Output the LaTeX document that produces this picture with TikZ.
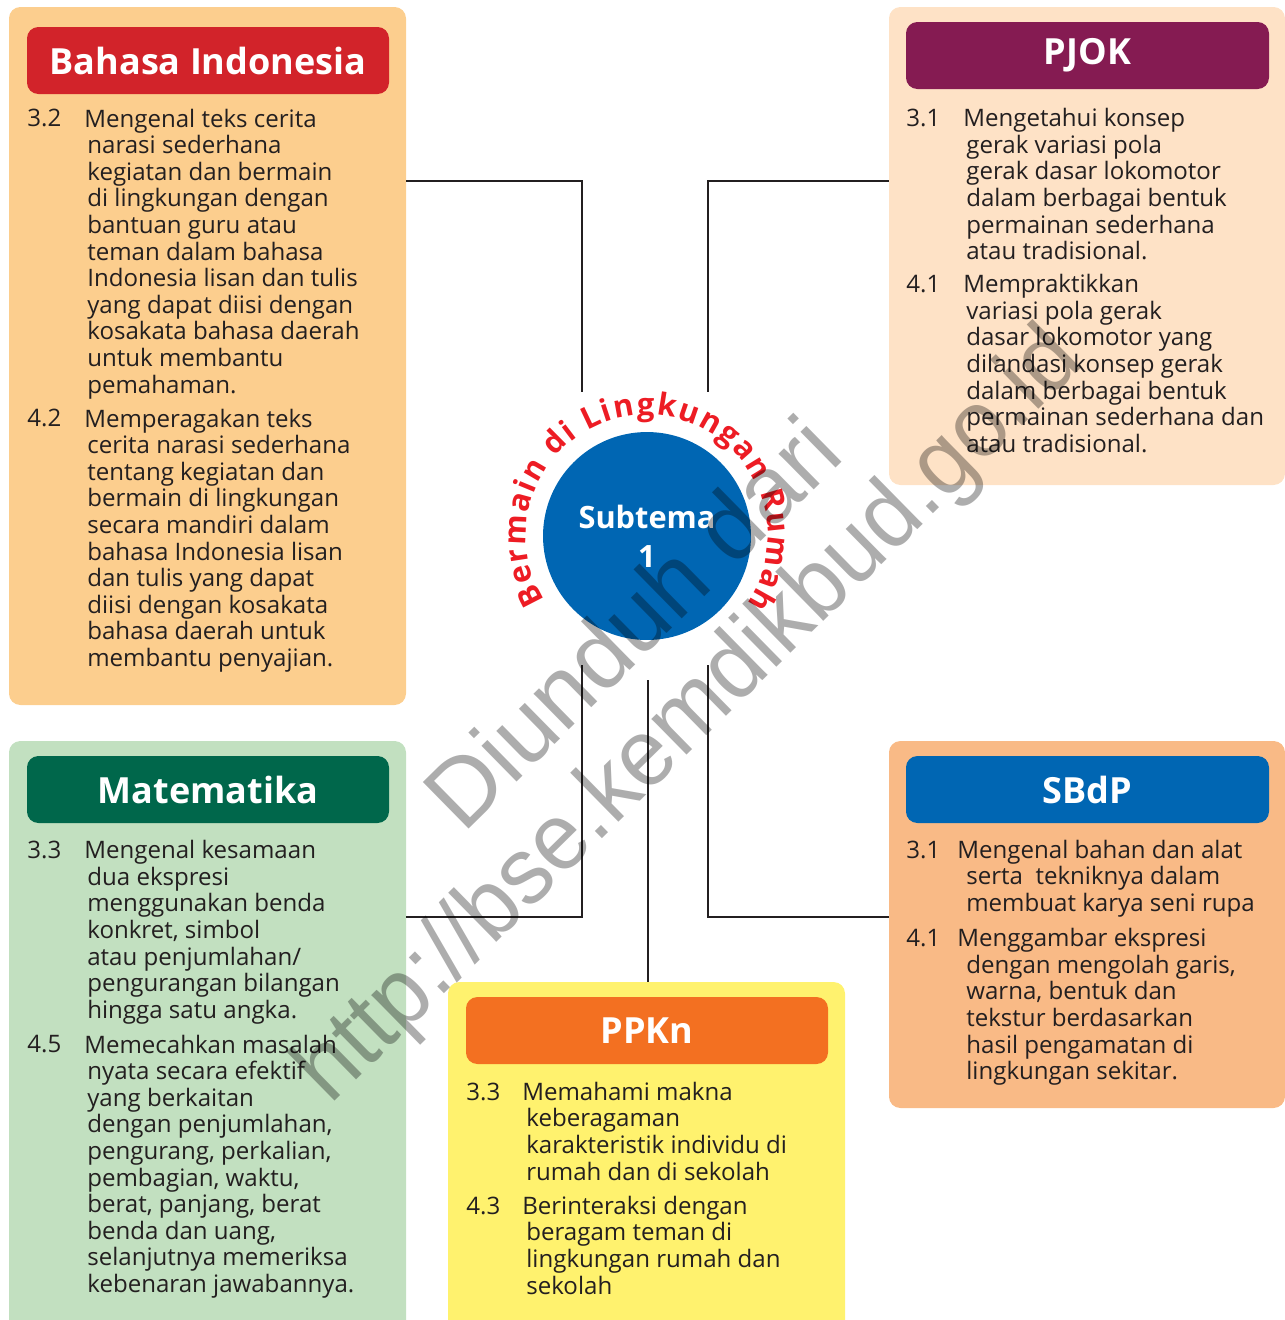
\documentclass[tikz,border=0pt]{standalone}
\usepackage{fontspec}
\setmainfont{Open Sans}
\newfontfamily\wmfont{Liberation Sans}
\usetikzlibrary{fit,decorations.text}

\definecolor{ink}{HTML}{231F20}
\definecolor{bibg}{HTML}{FCCE8E}
\definecolor{bitop}{HTML}{D2232A}
\definecolor{pjbg}{HTML}{FEE2C6}
\definecolor{pjtop}{HTML}{851B52}
\definecolor{mtbg}{HTML}{C2E0C0}
\definecolor{mttop}{HTML}{00674B}
\definecolor{sbbg}{HTML}{F9BA86}
\definecolor{sbtop}{HTML}{0066B3}
\definecolor{ppbg}{HTML}{FFF26E}
\definecolor{pptop}{HTML}{F37021}
\definecolor{subblue}{HTML}{0066B3}
\definecolor{ringred}{HTML}{ED1C24}

\newcommand{\bodyfont}{\fontsize{13.7}{15.14}\selectfont}
\newcommand{\headfont}{\bfseries\fontsize{20.5}{20.5}\selectfont}
\newcommand{\subfont}{\bfseries\fontsize{17.5}{22}\selectfont}
\newcommand{\ringfont}{\bfseries\fontsize{17.5}{17.5}\selectfont}

\tikzset{
  panel/.style={inner sep=0pt, rounded corners=6.5pt},
  title/.style={text=white, font=\headfont, inner sep=0pt},
  num/.style={anchor=base west, inner sep=0pt, text=ink, font=\bodyfont},
  body/.style={num, align=left},  % placed at the baseline of its last line
  link/.style={draw=ink, line width=1.1pt},
  wmark/.style={rotate=44.5, anchor=base, inner sep=0pt, text=black, text opacity=0.32,
    font=\wmfont\fontsize{54}{54}\selectfont},
}

\begin{document}
\begin{tikzpicture}[x=0.02cm, y=-0.02cm]
    \useasboundingbox (0,0) rectangle (1285,1320);
    %Panels
    \node[panel, fill=bibg, fit={(9,7) (406,705)}]      (bibox) {};
    \node[panel, fill=pjbg, fit={(889,7) (1285,485)}]   (pjbox) {};
    \node[panel, fill=mtbg, fit={(9,741) (406,1335)}]   (mtbox) {};
    \node[panel, fill=sbbg, fit={(889,741) (1285,1108)}] (sbbox) {};
    \node[panel, fill=ppbg, fit={(448,982) (845,1335)}] (ppbox) {};
    %Headers
    \node[panel, fill=bitop, fit={(27,27) (389,94)}]    (bihead) {};
    \node[panel, fill=pjtop, fit={(906,22) (1269,89)}]  (pjhead) {};
    \node[panel, fill=mttop, fit={(27,756) (389,823)}]  (mthead) {};
    \node[panel, fill=sbtop, fit={(906,756) (1269,823)}] (sbhead) {};
    \node[panel, fill=pptop, fit={(466,997) (828,1064)}] (pphead) {};
    \node[title] (bititle) at (bihead) {Bahasa Indonesia};
    \node[title] (pjtitle) at (pjhead) {PJOK};
    \node[title] (mttitle) at (mthead) {Matematika};
    \node[title] (sbtitle) at (sbhead) {SBdP};
    \node[title] (pptitle) at (pphead) {PPKn};
    %Subtema
    \node[circle, fill=subblue, minimum size=4.16cm, inner sep=0pt, text=white,
          font=\subfont, align=center] (sub) at (647,536) {Subtema\\1};
    \begin{scope}[shift={(647,536)}, y=0.02cm]
        \path[decorate, decoration={text along path, text align=fit to path,
              text={|\color{ringred}\ringfont|Bermain di Lingkungan Rumah}}]
            (212:121) arc[start angle=212, end angle=-34, radius=121];
    \end{scope}
    %Connectors
    \coordinate (bi-knee) at (582,181);
    \coordinate (bi-end)  at (582,392);
    \coordinate (pj-knee) at (708,181);
    \coordinate (pj-end)  at (708,392);
    \coordinate (mt-knee) at (582,917);
    \coordinate (mt-end)  at (582,665);
    \coordinate (sb-knee) at (708,917);
    \coordinate (sb-end)  at (708,665);
    \coordinate (pp-end)  at (648,680);
    \draw[link] (bibox.east |- bi-knee) -- (bi-knee) -- (bi-end);
    \draw[link] (pjbox.west |- pj-knee) -- (pj-knee) -- (pj-end);
    \draw[link] (mtbox.east |- mt-knee) -- (mt-knee) -- (mt-end);
    \draw[link] (sbbox.west |- sb-knee) -- (sb-knee) -- (sb-end);
    \draw[link] (pp-end) -- (ppbox.north -| pp-end);
    %Bahasa Indonesia
    \node[num]  (bi32n) at (27,126) {3.2};
    \node[body] (bi32)  at (87,393.1) {\hspace*{-1.7pt}Mengenal teks cerita\\narasi sederhana\\kegiatan dan bermain\\di lingkungan dengan\\bantuan guru atau\\teman dalam bahasa\\Indonesia lisan dan tulis\\yang dapat diisi dengan\\kosakata bahasa daerah\\untuk membantu\\pemahaman.};
    \node[num]  (bi42n) at (27,426) {4.2};
    \node[body] (bi42)  at (87,666.4) {\hspace*{-1.7pt}Memperagakan teks\\cerita narasi sederhana\\tentang kegiatan dan\\bermain di lingkungan\\secara mandiri dalam\\bahasa Indonesia lisan\\dan tulis yang dapat\\diisi dengan kosakata\\bahasa daerah untuk\\membantu penyajian.};
    %PJOK
    \node[num]  (pj31n) at (906,126) {3.1};
    \node[body] (pj31)  at (966,259.6) {\hspace*{-1.7pt}Mengetahui konsep\\gerak variasi pola\\gerak dasar lokomotor\\dalam berbagai bentuk\\permainan sederhana\\atau tradisional.};
    \node[num]  (pj41n) at (906,292) {4.1};
    \node[body] (pj41)  at (966,452.3) {\hspace*{-1.7pt}Mempraktikkan\\variasi pola gerak\\dasar lokomotor yang\\dilandasi konsep gerak\\dalam berbagai bentuk\\permainan sederhana dan\\atau tradisional.};
    %Matematika
    \node[num]  (mt33n) at (27,858) {3.3};
    \node[body] (mt33)  at (87,1018.3) {\hspace*{-1.7pt}Mengenal kesamaan\\dua ekspresi\\menggunakan benda\\konkret, simbol\\atau penjumlahan/\\pengurangan bilangan\\hingga satu angka.};
    \node[num]  (mt45n) at (27,1052) {4.5};
    \node[body] (mt45)  at (87,1292.4) {\hspace*{-1.7pt}Memecahkan masalah\\nyata secara efektif\\yang berkaitan\\dengan penjumlahan,\\pengurang, perkalian,\\pembagian, waktu,\\berat, panjang, berat\\benda dan uang,\\selanjutnya memeriksa\\kebenaran jawabannya.};
    %SBdP
    \node[num]  (sb31n) at (906,858) {3.1};
    \node[body] (sb31)  at (966,911.4) {\hspace*{-5.1pt}Mengenal bahan dan alat\\serta\ \ tekniknya dalam\\membuat karya seni rupa};
    \node[num]  (sb41n) at (906,946) {4.1};
    \node[body] (sb41)  at (966,1079.6) {\hspace*{-5.1pt}Menggambar ekspresi\\dengan mengolah garis,\\warna, bentuk dan\\tekstur berdasarkan\\hasil pengamatan di\\lingkungan sekitar.};
    %PPKn
    \node[num]  (pp33n) at (466,1100) {3.3};
    \node[body] (pp33)  at (526,1180.1) {\hspace*{-2.3pt}Memahami makna\\keberagaman\\karakteristik individu di\\rumah dan di sekolah};
    \node[num]  (pp43n) at (466,1214) {4.3};
    \node[body] (pp43)  at (526,1294.1) {\hspace*{-2.3pt}Berinteraksi dengan\\beragam teman di\\lingkungan rumah dan\\sekolah};
    %Watermark
    \node[wmark] (wm1) at (655,646) {Diunduh dari};
    \node[wmark, xscale=0.955] (wm2) at (708,735) {http://bse.kemdikbud.go.id};
\end{tikzpicture}
\end{document}
